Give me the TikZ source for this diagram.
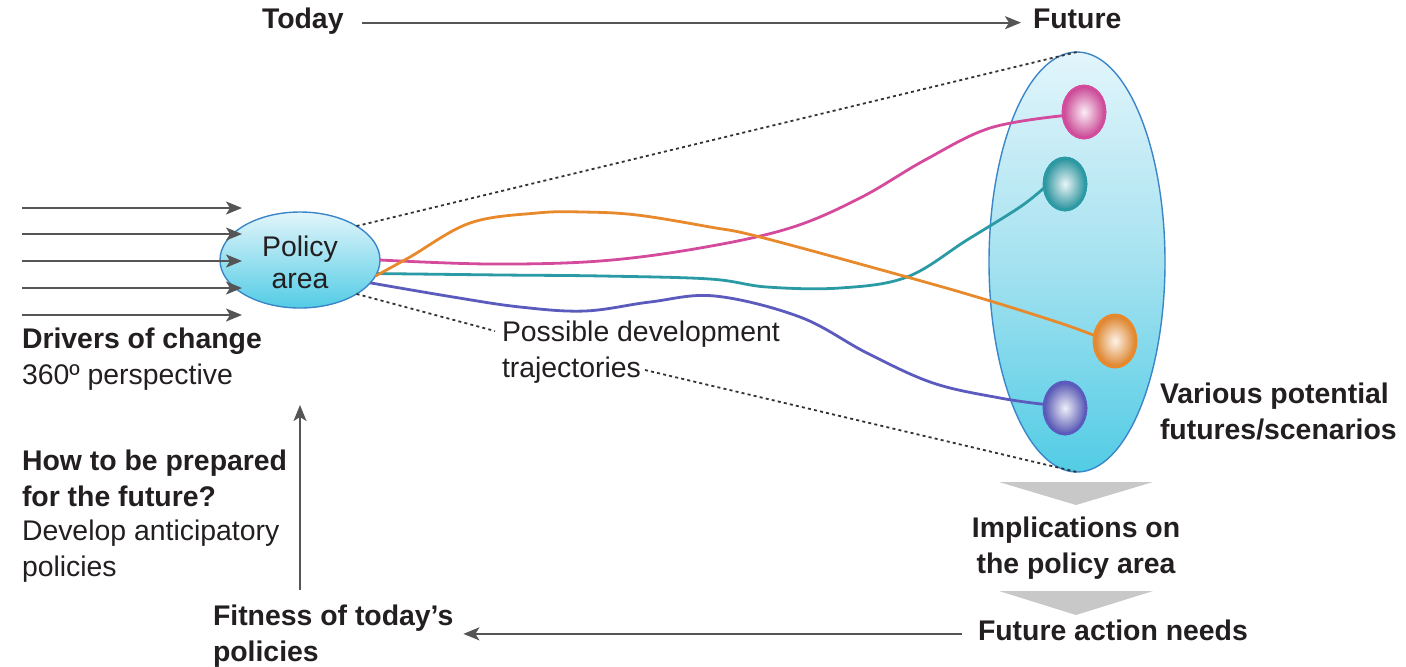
\documentclass[tikz,border=0pt]{standalone}
\usepackage{fontspec}
\setmainfont{Liberation Sans}
\usetikzlibrary{arrows.meta,shapes.geometric}
\definecolor{txt}{HTML}{231F20}
\definecolor{arrgray}{HTML}{555555}
\definecolor{dotgray}{HTML}{333333}
\definecolor{ellborder}{HTML}{3A86C8}
\definecolor{ctop}{HTML}{E2F5FB}
\definecolor{cmid}{HTML}{A6E2F0}
\definecolor{cbot}{HTML}{52CCE5}
\definecolor{cpink}{HTML}{D44A9C}
\definecolor{cteal}{HTML}{2A9AA5}
\definecolor{corange}{HTML}{E8892B}
\definecolor{cblue}{HTML}{5B5BBD}
\definecolor{trigray}{HTML}{C8C8C8}
\tikzset{
  lbl/.style={font=\fontsize{14.2}{17.6}\selectfont, text=txt, inner sep=0pt, outer sep=0pt, align=left, anchor=base west},
  blbl/.style={lbl, font=\fontsize{14.2}{17.6}\selectfont\bfseries},
  arr/.style={draw=arrgray, line width=1pt, -{Stealth[length=8pt,width=6.5pt,inset=2pt]}},
  dots/.style={draw=dotgray, line width=0.9pt, dash pattern=on 1.5pt off 1.6pt},
  traj/.style={line width=1.4pt, smooth, tension=0.6},
  sphere/.style={ellipse, minimum width=21pt, minimum height=26pt, inner sep=0pt, outer sep=0pt, draw=#1, line width=1.3pt, inner color=#1!10, outer color=#1!95!black},
  cloud/.style={ellipse, draw=ellborder, line width=0.7pt, inner sep=0pt, outer sep=0pt, top color=ctop, bottom color=cbot}
}
\begin{document}
\begin{tikzpicture}[x=0.5pt,y=-0.5pt]
\useasboundingbox (0,0) rectangle (1406,666);
% big ellipse of futures
\node[cloud, minimum width=88pt, minimum height=210pt, middle color=cmid] (big) at (1077,262) {};
% policy area
\node[cloud, minimum width=80pt, minimum height=48pt] (policy) at (300,260) {};
\node[font=\fontsize{14.2}{16}\selectfont, text=txt, align=center, inner sep=0pt] (ptext) at (300,262) {Policy\\area};
% sphere positions
\node[sphere=cpink] (pk) at (1084,112) {};
\node[sphere=cteal] (tl) at (1065,184) {};
\node[sphere=corange] (or) at (1115,341) {};
\node[sphere=cblue] (bl) at (1065,408) {};
% trajectories
\draw[traj, cpink] plot coordinates {(policy.0) (490,264) (600,261) (700,248) (790,228) (860,198) (925,160) (990,128) (pk.190)};
\draw[traj, cteal] plot coordinates {(policy.-10) (503,275) (603,276) (710,279) (767,287) (840,288) (907,277) (967,240) (1020,207) (tl.190)};
\draw[traj, corange] plot coordinates {(policy.-12) (410,257) (470,223) (537,213) (583,212) (637,215) (710,227) (760,237) (907,277) (987,300) (1060,323) (or.165)};
\draw[traj, cblue] plot coordinates {(policy.-18) (453,297) (520,307) (585,311) (650,302) (715,296) (800,317) (867,353) (933,383) (1000,398) (bl.170)};
% spheres on top of the trajectories
\node[sphere=cpink] at (pk) {};
\node[sphere=cteal] at (tl) {};
\node[sphere=corange] at (or) {};
\node[sphere=cblue] at (bl) {};
% dotted lines
\coordinate (d1) at (495,331);
\coordinate (d2) at (645,370);
\draw[dots] (policy.north east) -- (big.north);
\draw[dots] (policy.south east) -- (d1);
\draw[dots] (d2) -- (big.south);
% drivers arrows
\foreach \y [count=\i] in {208,234,261,288,315} {
  \coordinate (da\i) at (22,\y);
  \coordinate (db\i) at (242,\y);
  \draw[arr] (da\i) -- (db\i);
}
% labels
\node[blbl] (today) at (262,28) {Today};
\node[blbl] (future) at (1033,28) {Future};
\draw[arr, shorten <=9pt, shorten >=6pt] (today.east) ++(0,2) coordinate (t1) -- (t1 -| future.west);
\node[blbl] (drivers) at (22,348) {Drivers of change};
\node[lbl] (persp) at (22,384) {360º perspective};
\node[lbl] (pdt) at (502,377) {Possible development\\trajectories};
\node[blbl] (various) at (1160,439) {Various potential\\futures/scenarios};
\node[blbl] (how) at (22,506) {How to be prepared\\for the future?};
\node[lbl] (dev) at (22,576) {Develop anticipatory\\policies};
\node[blbl, align=center, anchor=base] (impl) at (1076,573) {Implications on\\the policy area};
\node[blbl] (fan) at (978,640) {Future action needs};
\node[blbl] (fit) at (213,661) {Fitness of today’s\\policies};
% grey down arrows
\fill[trigray] (999,482) -- (1153,482) -- (1076,505) -- cycle;
\fill[trigray] (999,591) -- (1153,591) -- (1076,615) -- cycle;
% feedback arrows
\draw[arr, shorten <=8pt, shorten >=5pt] (fan.west) ++(0,4) coordinate (f1) -- (f1 -| fit.east);
\coordinate (va1) at (300,590);
\coordinate (va2) at (300,405);
\draw[arr] (va1) -- (va2);
\end{tikzpicture}
\end{document}
